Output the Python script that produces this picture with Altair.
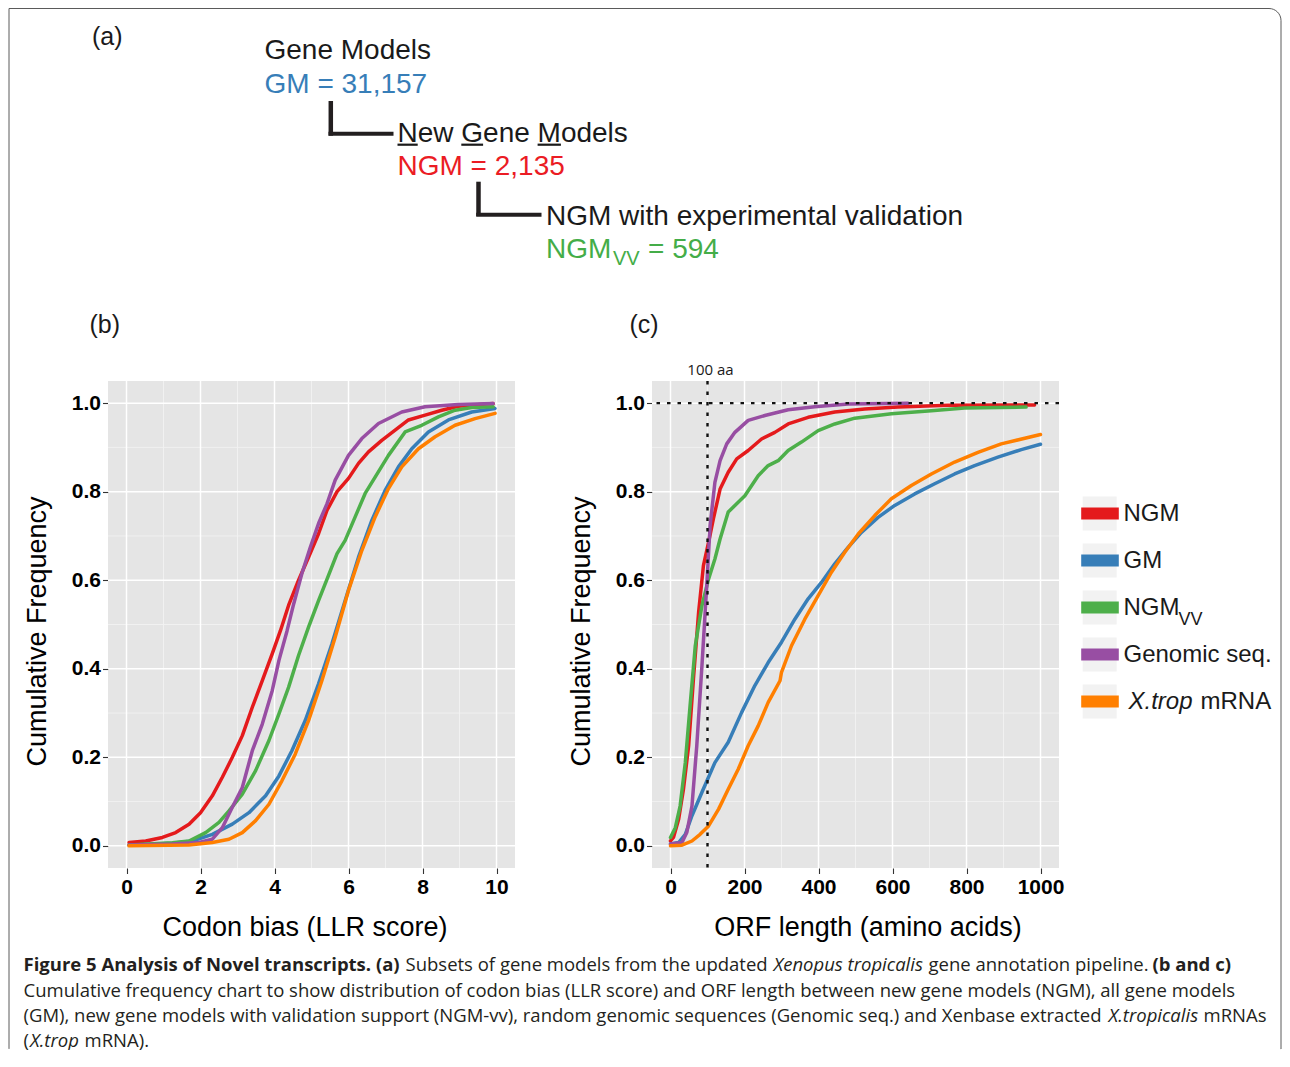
import altair as alt
import pandas as pd

# ---------------- series ----------------
SERIES = ["NGM", "GM", "NGM_VV", "Genomic seq.", "X.trop mRNA"]
COLORS = ["#E41A1C", "#377EB8", "#4DAF4A", "#984EA3", "#FF7F00"]

# (b) Codon bias (LLR score) -> cumulative frequency
b_ngm_x = [0.07, 0.52, 0.97, 1.33, 1.69, 2.0, 2.32, 2.59, 2.86, 3.13, 3.40, 3.67, 3.94, 4.16, 4.38,
           4.65, 4.92, 5.19, 5.42, 5.69, 6.0, 6.27, 6.54, 6.9, 7.26, 7.62, 8.07, 8.52, 8.97, 9.91]
b_ngm_y = [0.0075, 0.011, 0.019, 0.030, 0.049, 0.075, 0.113, 0.155, 0.20, 0.249, 0.313, 0.373, 0.434, 0.486, 0.543,
           0.60, 0.652, 0.705, 0.758, 0.80, 0.83, 0.864, 0.89, 0.916, 0.939, 0.962, 0.973, 0.984, 0.993, 0.999]
b_gm_x = [0.07, 1.24, 1.78, 2.32, 2.86, 3.31, 3.76, 4.12, 4.47, 4.83, 5.19, 5.55, 5.91, 6.27, 6.63,
          6.99, 7.35, 7.71, 8.16, 8.70, 9.33, 9.96]
b_gm_y = [0.0015, 0.006, 0.011, 0.026, 0.049, 0.075, 0.113, 0.158, 0.215, 0.283, 0.366, 0.456, 0.554, 0.652, 0.735,
          0.803, 0.856, 0.897, 0.935, 0.962, 0.98, 0.988]
b_vv_x = [0.07, 1.24, 1.69, 2.14, 2.5, 2.77, 3.13, 3.49, 3.85, 4.12, 4.38, 4.65, 4.92, 5.19, 5.46, 5.69,
          5.91, 6.18, 6.45, 6.72, 7.08, 7.53, 7.98, 8.43, 8.88, 9.33, 9.91]
b_vv_y = [0.002, 0.007, 0.011, 0.03, 0.053, 0.079, 0.117, 0.17, 0.238, 0.298, 0.358, 0.43, 0.494, 0.554, 0.611, 0.66,
          0.69, 0.743, 0.796, 0.833, 0.882, 0.935, 0.95, 0.969, 0.984, 0.99, 0.992]
b_gen_x = [0.07, 1.24, 1.96, 2.32, 2.59, 2.86, 3.13, 3.40, 3.67, 3.94, 4.12, 4.34, 4.52, 4.74, 4.97, 5.19,
           5.42, 5.64, 6.0, 6.36, 6.81, 7.44, 8.07, 8.97, 9.91]
b_gen_y = [0.002, 0.004, 0.0075, 0.015, 0.041, 0.087, 0.132, 0.215, 0.275, 0.351, 0.419, 0.486, 0.547, 0.615, 0.675,
           0.728, 0.773, 0.826, 0.882, 0.92, 0.954, 0.98, 0.992, 0.997, 0.999]
b_xt_x = [0.07, 1.69, 2.32, 2.77, 3.13, 3.49, 3.85, 4.2, 4.56, 4.92, 5.28, 5.64, 6.0, 6.36, 6.72, 7.08,
          7.44, 7.89, 8.34, 8.88, 9.42, 9.96]
b_xt_y = [0.0, 0.002, 0.0075, 0.015, 0.03, 0.057, 0.094, 0.147, 0.207, 0.283, 0.373, 0.471, 0.577, 0.667, 0.743,
          0.807, 0.856, 0.897, 0.924, 0.95, 0.965, 0.977]

# (c) ORF length (amino acids) -> cumulative frequency
c_ngm_x = [0, 8, 22, 35, 49, 62, 76, 89, 103, 116, 134, 156, 179, 210, 246, 282, 318, 372, 444, 525, 615, 750, 984]
c_ngm_y = [0.011, 0.019, 0.06, 0.128, 0.226, 0.377, 0.528, 0.633, 0.686, 0.739, 0.806, 0.844, 0.874, 0.893,
           0.919, 0.934, 0.953, 0.968, 0.98, 0.987, 0.991, 0.995, 0.996]
c_gm_x = [0, 22, 40, 58, 85, 120, 156, 192, 228, 264, 300, 336, 372, 408, 444, 480, 516, 561, 606, 660,
          714, 768, 822, 885, 948, 1000]
c_gm_y = [0.004, 0.0075, 0.026, 0.068, 0.121, 0.188, 0.234, 0.301, 0.362, 0.414, 0.46, 0.512, 0.558, 0.595,
          0.637, 0.674, 0.708, 0.742, 0.769, 0.795, 0.818, 0.84, 0.859, 0.878, 0.895, 0.907]
c_vv_x = [0, 13, 26, 40, 53, 67, 85, 103, 120, 134, 156, 183, 201, 237, 264, 291, 318, 354, 399, 444, 498,
          597, 705, 795, 961]
c_vv_y = [0.019, 0.041, 0.09, 0.188, 0.317, 0.452, 0.543, 0.603, 0.648, 0.693, 0.754, 0.776, 0.791, 0.836,
          0.859, 0.87, 0.893, 0.912, 0.938, 0.953, 0.966, 0.976, 0.983, 0.989, 0.991]
c_gen_x = [0, 31, 44, 58, 71, 85, 98, 107, 120, 134, 152, 174, 210, 255, 318, 390, 480, 642]
c_gen_y = [0.004, 0.0075, 0.03, 0.09, 0.226, 0.407, 0.588, 0.723, 0.821, 0.87, 0.908, 0.934, 0.961, 0.972,
           0.985, 0.992, 0.998, 1.0]
c_xt_x = [0, 31, 58, 80, 103, 130, 156, 183, 210, 237, 264, 296, 300, 327, 363, 399, 435, 471, 508, 552,
          597, 651, 705, 768, 831, 894, 1000]
c_xt_y = [0.0, 0.0015, 0.011, 0.026, 0.045, 0.083, 0.128, 0.173, 0.226, 0.271, 0.324, 0.373, 0.392, 0.452,
          0.512, 0.565, 0.618, 0.663, 0.705, 0.746, 0.784, 0.814, 0.84, 0.867, 0.889, 0.908, 0.929]

# axis breaks
B_MAJOR_X = [0, 2, 4, 6, 8, 10]
B_MINOR_X = [1, 3, 5, 7, 9]
C_MAJOR_X = [0, 200, 400, 600, 800, 1000]
C_MINOR_X = [100, 300, 500, 700, 900]
Y_MAJOR = [0.0, 0.2, 0.4, 0.6, 0.8, 1.0]
Y_MINOR = [0.1, 0.3, 0.5, 0.7, 0.9]
ORF_CUTOFF = [100]
CUTOFF_LABEL = ["100 aa"]

# legend labels
LEG_MAIN = ["NGM", "GM", "NGM", "Genomic seq.", ""]
LEG_SUB = ["", "", "VV", "", ""]
LEG_ITAL = ["", "", "", "", "X.trop"]
LEG_TAIL = ["", "", "", "", "mRNA"]

# panel (a) texts
HEADER = ["(a)", "Gene Models", "GM = 31,157", "New Gene Models", "NGM = 2,135",
          "NGM with experimental validation", "NGM", "VV", "= 594"]
TAGS = ["(b)", "(c)"]
CAPTION = [
    "Figure 5 Analysis of Novel transcripts. (a)",
    "Subsets of gene models from the updated",
    "Xenopus tropicalis",
    "gene annotation pipeline.",
    "(b and c)",
    "Cumulative frequency chart to show distribution of codon bias (LLR score) and ORF length between new gene models (NGM), all gene models",
    "(GM), new gene models with validation support (NGM-vv), random genomic sequences (Genomic seq.) and Xenbase extracted",
    "X.tropicalis",
    "mRNAs",
    "(",
    "X.trop",
    "mRNA).",
]

# ---------------- helpers ----------------
FONT = "Liberation Sans"
CFONT = "Open Sans"
W, H = 407, 487
BG = "#E5E5E5"
MINOR = "#F2F2F2"
CAPC = "#231F20"
CS = 18.5


def frame(pairs):
    rows = []
    for s, (xs, ys) in zip(SERIES, pairs):
        for a, b in zip(xs, ys):
            rows.append({"series": s, "x": a, "y": b})
    return pd.DataFrame(rows)


df_b = frame([(b_ngm_x, b_ngm_y), (b_gm_x, b_gm_y), (b_vv_x, b_vv_y), (b_gen_x, b_gen_y), (b_xt_x, b_xt_y)])
df_c = frame([(c_ngm_x, c_ngm_y), (c_gm_x, c_gm_y), (c_vv_x, c_vv_y), (c_gen_x, c_gen_y), (c_xt_x, c_xt_y)])

color_scale = alt.Scale(domain=SERIES, range=COLORS)


def txt(s, x, y, size, color="#1a1a1a", font=FONT, weight="normal", style="normal", align="left"):
    return alt.Chart(alt.Data(values=[{"t": s}])).mark_text(
        align=align, baseline="alphabetic", font=font, fontSize=size,
        fontWeight=weight, fontStyle=style, color=color
    ).encode(x=alt.value(x), y=alt.value(y), text="t:N")


def hrule(x1, x2, y, width, color="#231F20"):
    return alt.Chart(alt.Data(values=[{}])).mark_rule(
        color=color, strokeWidth=width, strokeCap="butt"
    ).encode(x=alt.value(x1), x2=alt.value(x2), y=alt.value(y))


def vrule(x, y1, y2, width, color="#231F20"):
    return alt.Chart(alt.Data(values=[{}])).mark_rule(
        color=color, strokeWidth=width, strokeCap="butt"
    ).encode(x=alt.value(x), y=alt.value(y1), y2=alt.value(y2))


def panel(df, xdom, major_x, minor_x, xtitle, xtitle_x, xfmt):
    xs = alt.Scale(domain=xdom, nice=False, zero=False)
    ys = alt.Scale(domain=[-0.05, 1.05], nice=False, zero=False)
    common = dict(grid=False, domain=False, tickColor="#333333", tickSize=5.5, tickWidth=1.1,
                  labelFont=FONT, labelFontSize=21, labelFontWeight="bold", labelColor="black",
                  labelFlush=False, labelOverlap=False,
                  titleFont=FONT, titleFontSize=27, titleFontWeight="normal", titleColor="black",
                  titleBaseline="alphabetic")
    xaxis = alt.Axis(values=major_x, format=xfmt, labelPadding=3, title=xtitle,
                     titleX=xtitle_x, titleY=67, **common)
    yaxis = alt.Axis(values=Y_MAJOR, format=".1f", labelPadding=2, title="Cumulative Frequency",
                     titleX=-63, titleY=250, **common)
    X = alt.X("x:Q", scale=xs, axis=xaxis)
    Yc = alt.Y("y:Q", scale=ys, axis=yaxis)
    layers = [
        alt.Chart(pd.DataFrame({"x": minor_x})).mark_rule(color=MINOR, strokeWidth=0.9).encode(x=X),
        alt.Chart(pd.DataFrame({"y": Y_MINOR})).mark_rule(color=MINOR, strokeWidth=0.9).encode(y=Yc),
        alt.Chart(pd.DataFrame({"x": major_x})).mark_rule(color="white", strokeWidth=1.5).encode(x=X),
        alt.Chart(pd.DataFrame({"y": Y_MAJOR})).mark_rule(color="white", strokeWidth=1.5).encode(y=Yc),
    ]
    for s in SERIES:
        layers.append(
            alt.Chart(df).transform_filter(alt.datum.series == s)
            .mark_line(strokeWidth=3.5, strokeJoin="round", strokeCap="round")
            .encode(x=X, y=Yc, color=alt.Color("series:N", scale=color_scale, legend=None))
        )
    return layers, X, Yc


# ---------------- panel (b) ----------------
layers_b, X_b, Y_b = panel(df_b, [-0.5, 10.5], B_MAJOR_X, B_MINOR_X,
                           "Codon bias (LLR score)", 196.5, "d")

OX = -107.5  # page x -> panel (b) x
L1, L2, L3, L4 = 590.0, 615.5, 640.5, 665.5

# outer frame: rounded top-right corner, open at the bottom (dash skips the bottom edge)
FX1, FX2, FY1, FY2, FR = -99.0, 1173.0, -372.5, 668.0, 12.0
FW, FH = FX2 - FX1, FY2 - FY1
dash_first = (FW - FR) + 3.14159 * FR / 2 + (FH - FR)

ann = [
    txt(HEADER[0], -16, -336, 25),
    txt(HEADER[1], 156.5, -321.7, 28),
    txt(HEADER[2], 156.5, -288.3, 28, color="#377EB8"),
    vrule(222.8, -280, -245.3, 4.5),
    hrule(220.5, 285.5, -247.3, 4),
    txt(HEADER[3], 289.5, -239.3, 28),
    hrule(289.5, 309.7, -236.3, 2.2, color="#1a1a1a"),
    hrule(353.3, 375.1, -236.3, 2.2, color="#1a1a1a"),
    hrule(429.6, 452.9, -236.3, 2.2, color="#1a1a1a"),
    txt(HEADER[4], 289.5, -206, 28, color="#EB1C24"),
    vrule(370.5, -199.3, -165, 4.5),
    hrule(368.2, 433.5, -166.3, 4),
    txt(HEADER[5], 438, -156.5, 28),
    txt(HEADER[6], 438, -122.7, 28, color="#44AD48"),
    txt(HEADER[7], 505, -116, 20, color="#44AD48"),
    txt(HEADER[8], 540, -122.7, 28, color="#44AD48"),
    txt(TAGS[0], -18.5, -48, 25),
    txt(TAGS[1], 521.5, -48, 25),
    # caption
    txt(CAPTION[0], 23 + OX, L1, CS, color=CAPC, font=CFONT, weight="bold"),
    txt(CAPTION[1], 405 + OX, L1, CS, color=CAPC, font=CFONT),
    txt(CAPTION[2], 773 + OX, L1, CS, color=CAPC, font=CFONT, style="italic"),
    txt(CAPTION[3], 928 + OX, L1, CS, color=CAPC, font=CFONT),
    txt(CAPTION[4], 1152 + OX, L1, CS, color=CAPC, font=CFONT, weight="bold"),
    txt(CAPTION[5], 23 + OX, L2, CS, color=CAPC, font=CFONT),
    txt(CAPTION[6], 23 + OX, L3, CS, color=CAPC, font=CFONT),
    txt(CAPTION[7], 1108 + OX, L3, CS, color=CAPC, font=CFONT, style="italic"),
    txt(CAPTION[8], 1203 + OX, L3, CS, color=CAPC, font=CFONT),
    txt(CAPTION[9], 23 + OX, L4, CS, color=CAPC, font=CFONT),
    txt(CAPTION[10], 29.5 + OX, L4, CS, color=CAPC, font=CFONT, style="italic"),
    txt(CAPTION[11], 84 + OX, L4, CS, color=CAPC, font=CFONT),
    alt.Chart(alt.Data(values=[{}])).mark_rect(
        filled=False, stroke="#5a5a5a", strokeWidth=1, cornerRadiusTopRight=FR,
        strokeDash=[dash_first, FW, FH + 5, 0]
    ).encode(x=alt.value(FX1), x2=alt.value(FX2), y=alt.value(FY1), y2=alt.value(FY2)),
]

panel_b = alt.layer(*layers_b, *ann).properties(
    width=W, height=H, view=alt.ViewBackground(fill=BG, stroke=None)
)

# ---------------- panel (c) ----------------
layers_c, X_c, Y_c = panel(df_c, [-50, 1050], C_MAJOR_X, C_MINOR_X,
                           "ORF length (amino acids)", 215.5, "d")
cut_df = pd.DataFrame({"x": ORF_CUTOFF, "t": CUTOFF_LABEL})
dotted = [
    alt.Chart(cut_df).mark_rule(color="#111111", strokeWidth=2.4, strokeDash=[3.5, 7]).encode(x=X_c),
    alt.Chart(pd.DataFrame({"y": [1.0]})).mark_rule(color="#111111", strokeWidth=2.4, strokeDash=[3.5, 7])
    .encode(y=Y_c),
    alt.Chart(cut_df).mark_text(font=CFONT, fontSize=15, baseline="alphabetic", align="center",
                                color="#1a1a1a", dx=3)
    .encode(x=X_c, y=alt.value(-6), text="t:N"),
]
panel_c = alt.layer(*layers_c, *dotted).properties(
    width=W, height=H, view=alt.ViewBackground(fill=BG, stroke=None)
)

# ---------------- legend (origin sits 137px right of panel c; items drawn 115px back) ----------------
LX = -115
leg_df = pd.DataFrame({"series": SERIES, "label": LEG_MAIN, "sub": LEG_SUB,
                       "ital": LEG_ITAL, "tail": LEG_TAIL})
ly = alt.Scale(type="point", domain=SERIES, range=[132.5, 320.5], padding=0)
Yl = alt.Y("series:N", scale=ly, axis=None)
legend = alt.layer(
    alt.Chart(leg_df).mark_square(size=34 * 34, color="#F2F2F2", opacity=1)
    .encode(x=alt.value(LX + 18.7), y=Yl),
    alt.Chart(leg_df).mark_rule(strokeWidth=12, strokeCap="butt")
    .encode(x=alt.value(LX + 0.2), x2=alt.value(LX + 37.8), y=Yl,
            color=alt.Color("series:N", scale=color_scale, legend=None)),
    alt.Chart(leg_df).mark_text(font=FONT, fontSize=24, align="left", baseline="alphabetic", dy=7,
                                color="#1a1a1a")
    .encode(x=alt.value(LX + 42.5), y=Yl, text="label:N"),
    alt.Chart(leg_df).mark_text(font=FONT, fontSize=18, align="left", baseline="alphabetic", dy=17,
                                color="#1a1a1a")
    .encode(x=alt.value(LX + 97.5), y=Yl, text="sub:N"),
    alt.Chart(leg_df).mark_text(font=FONT, fontSize=24, fontStyle="italic", align="left",
                                baseline="alphabetic", dy=7, color="#1a1a1a")
    .encode(x=alt.value(LX + 47.5), y=Yl, text="ital:N"),
    alt.Chart(leg_df).mark_text(font=FONT, fontSize=24, align="left", baseline="alphabetic", dy=7,
                                color="#1a1a1a")
    .encode(x=alt.value(LX + 119.5), y=Yl, text="tail:N"),
).properties(width=75, height=H)

chart = alt.hconcat(panel_b, panel_c, legend, spacing=137, bounds="flush").properties(
    padding=0, background="white"
).configure_view(stroke=None)

chart.save("out.html", embed_options={"renderer": "svg", "actions": False})
